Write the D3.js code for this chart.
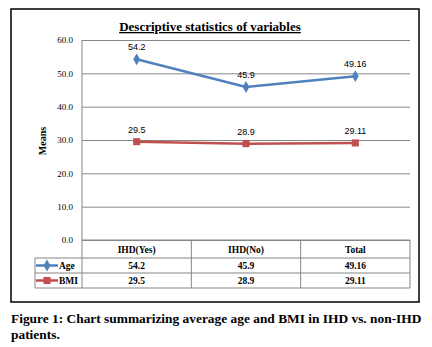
<!DOCTYPE html>
<html>
<head>
<meta charset="utf-8">
<script src="https://cdn.jsdelivr.net/npm/d3@7"></script>
<style>
  body { margin: 0; background: #fff; }
  svg { display: block; }
  .serif { font-family: "Liberation Serif", "Times New Roman", serif; }
  .sans { font-family: "Liberation Sans", Arial, sans-serif; }
</style>
</head>
<body>
<svg id="chart" width="432" height="347"></svg>
<script>
// chart data
const categories = ['IHD(Yes)', 'IHD(No)', 'Total'];
const ageValues = [54.2, 45.9, 49.16];
const bmiValues = [29.5, 28.9, 29.11];
const ageLabels = ['54.2', '45.9', '49.16'];
const bmiLabels = ['29.5', '28.9', '29.11'];
const yTicks = [0, 10, 20, 30, 40, 50, 60];

const series = [
  { name: 'Age', values: ageValues, labels: ageLabels, color: '#4f81bd', symbol: d3.symbolDiamond, size: 40 },
  { name: 'BMI', values: bmiValues, labels: bmiLabels, color: '#c0504d', symbol: d3.symbolSquare, size: 50 }
];

const svg = d3.select('#chart');

const plot = { left: 82, right: 410, top: 40, bottom: 240 };
const legendLeft = 35;
const rowH = [18, 15, 15];

const x = d3.scaleBand().domain(categories).range([plot.left, plot.right]);
const y = d3.scaleLinear().domain([0, 60]).range([plot.bottom, plot.top]);

// outer frame
svg.append('rect')
  .attr('x', 11).attr('y', 9).attr('width', 408).attr('height', 293)
  .attr('fill', 'none').attr('stroke', '#000').attr('stroke-width', 1.5);

// title
svg.append('text')
  .attr('class', 'serif')
  .attr('x', 210).attr('y', 31)
  .attr('text-anchor', 'middle')
  .attr('font-size', 13).attr('font-weight', 'bold')
  .attr('text-decoration', 'underline')
  .text('Descriptive statistics of variables');

// y axis with gridlines
const yAxis = svg.append('g')
  .attr('transform', 'translate(' + plot.left + ',0)')
  .call(d3.axisLeft(y).tickValues(yTicks).tickFormat(d3.format('.1f'))
    .tickSize(-(plot.right - plot.left)).tickPadding(9));
yAxis.select('.domain').remove();
yAxis.selectAll('line').attr('stroke', '#868686').attr('stroke-width', 1);
yAxis.selectAll('text')
  .attr('class', 'serif')
  .attr('font-size', 9).attr('fill', '#000');

// y axis title
svg.append('text')
  .attr('class', 'serif')
  .attr('transform', 'translate(46,141) rotate(-90)')
  .attr('text-anchor', 'middle')
  .attr('font-size', 10).attr('font-weight', 'bold')
  .text('Means');

// data table grid
const tableTop = plot.bottom;
const rowY = [tableTop, tableTop + rowH[0], tableTop + rowH[0] + rowH[1], tableTop + rowH[0] + rowH[1] + rowH[2]];
const tableBottom = rowY[3];
const grid = svg.append('g').attr('stroke', '#868686').attr('stroke-width', 1);

// vertical lines
grid.append('line').attr('x1', plot.left).attr('x2', plot.left).attr('y1', plot.top).attr('y2', tableBottom);
categories.forEach(c => {
  const xr = x(c) + x.bandwidth();
  grid.append('line').attr('x1', xr).attr('x2', xr).attr('y1', tableTop).attr('y2', tableBottom);
});
grid.append('line').attr('x1', legendLeft).attr('x2', legendLeft).attr('y1', rowY[1]).attr('y2', tableBottom);
// horizontal lines
grid.append('line').attr('x1', plot.left).attr('x2', plot.right).attr('y1', rowY[0]).attr('y2', rowY[0]);
[1, 2, 3].forEach(i => {
  grid.append('line').attr('x1', legendLeft).attr('x2', plot.right).attr('y1', rowY[i]).attr('y2', rowY[i]);
});

// header row
svg.append('g').selectAll('text')
  .data(categories)
  .enter().append('text')
  .attr('class', 'serif')
  .attr('x', d => x(d) + x.bandwidth() / 2)
  .attr('y', (rowY[0] + rowY[1]) / 2 + 3.5)
  .attr('text-anchor', 'middle')
  .attr('font-size', 9.5).attr('font-weight', 'bold')
  .text(d => d);

// series lines, markers, labels and table rows
const line = d3.line()
  .x((d, i) => x(categories[i]) + x.bandwidth() / 2)
  .y(d => y(d));

series.forEach((s, si) => {
  const g = svg.append('g');
  g.append('path')
    .datum(s.values)
    .attr('fill', 'none')
    .attr('stroke', s.color)
    .attr('stroke-width', 2.5)
    .attr('d', line);

  g.selectAll('.marker')
    .data(s.values)
    .enter().append('path')
    .attr('class', 'marker')
    .attr('transform', (d, i) => 'translate(' + (x(categories[i]) + x.bandwidth() / 2) + ',' + y(d) + ')')
    .attr('d', d3.symbol().type(s.symbol).size(s.size))
    .attr('fill', s.color);

  g.selectAll('.label')
    .data(s.values)
    .enter().append('text')
    .attr('class', 'sans')
    .attr('x', (d, i) => x(categories[i]) + x.bandwidth() / 2)
    .attr('y', d => y(d) - 9)
    .attr('text-anchor', 'middle')
    .attr('font-size', 9).attr('fill', '#000')
    .text((d, i) => s.labels[i]);

  // table row
  const cy = (rowY[si + 1] + rowY[si + 2]) / 2;
  const row = svg.append('g');
  row.selectAll('text')
    .data(s.labels)
    .enter().append('text')
    .attr('class', 'serif')
    .attr('x', (d, i) => x(categories[i]) + x.bandwidth() / 2)
    .attr('y', cy + 3.5)
    .attr('text-anchor', 'middle')
    .attr('font-size', 9.5).attr('font-weight', 'bold')
    .text(d => d);

  // legend key
  row.append('line')
    .attr('x1', legendLeft + 1).attr('x2', legendLeft + 23)
    .attr('y1', cy).attr('y2', cy)
    .attr('stroke', s.color).attr('stroke-width', 2.5);
  row.append('path')
    .attr('transform', 'translate(' + (legendLeft + 12) + ',' + cy + ')')
    .attr('d', d3.symbol().type(s.symbol).size(s.size))
    .attr('fill', s.color);
  row.append('text')
    .attr('class', 'serif')
    .attr('x', legendLeft + 24)
    .attr('y', cy + 3.5)
    .attr('font-size', 9.5).attr('font-weight', 'bold')
    .text(s.name);
});

// caption
const caption = svg.append('text')
  .attr('class', 'serif')
  .attr('font-size', 13.4).attr('font-weight', 'bold');
caption.append('tspan').attr('x', 11).attr('y', 323)
  .text('Figure 1: Chart summarizing average age and BMI in IHD vs. non-IHD');
caption.append('tspan').attr('x', 11).attr('y', 339)
  .text('patients.');
</script>
</body>
</html>
